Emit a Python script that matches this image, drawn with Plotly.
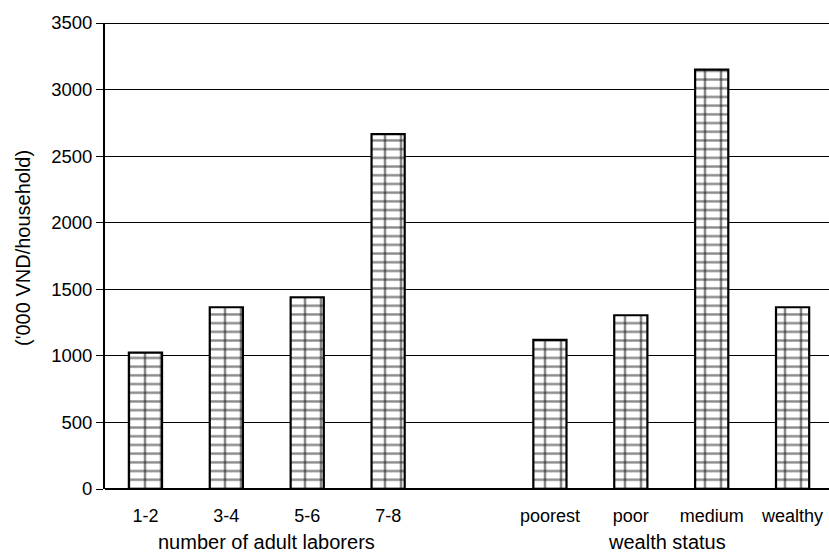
import plotly.graph_objects as go

labor_cats = ["1-2", "3-4", "5-6", "7-8"]
labor_vals = [1025, 1365, 1440, 2665]
wealth_cats = ["poorest", "poor", "medium", "wealthy"]
wealth_vals = [1120, 1305, 3150, 1365]
group_titles = ["number of adult laborers", "wealth status"]
y_ticks = [0, 500, 1000, 1500, 2000, 2500, 3000, 3500]

# positions: one empty slot between the two groups
x_labor = list(range(len(labor_cats)))
x_wealth = [len(labor_cats) + 1 + i for i in range(len(wealth_cats))]
x_all = x_labor + x_wealth
v_all = labor_vals + wealth_vals

font = "Liberation Sans, Arial, sans-serif"

fig = go.Figure()
# horizontal brick courses
fig.add_bar(
    x=x_all, y=v_all, width=0.41, showlegend=False,
    marker=dict(color="white", line=dict(color="black", width=0),
                pattern=dict(shape="-", size=8.7, solidity=0.27,
                             fgcolor="#111", bgcolor="white")),
)
# vertical joints + outline
fig.add_bar(
    x=x_all, y=v_all, width=0.41, showlegend=False,
    marker=dict(color="rgba(0,0,0,0)", line=dict(color="black", width=2.2),
                pattern=dict(shape="|", size=16, solidity=0.16,
                             fgcolor="#111", bgcolor="rgba(0,0,0,0)")),
)

fig.update_layout(
    width=829, height=556,
    margin=dict(l=105, r=0, t=23, b=67, autoexpand=False),
    plot_bgcolor="white", paper_bgcolor="white",
    font=dict(family=font, size=18, color="black"),
    barmode="overlay",
)
fig.update_xaxes(
    range=[-0.5, 8.45], automargin=False,
    tickmode="array",
    tickvals=x_all,
    ticktext=labor_cats + wealth_cats,
    showgrid=False, zeroline=False, showline=False,
    ticks="", ticklabelstandoff=14,
    tickfont=dict(size=18),
)
fig.update_yaxes(
    range=[0, 3500], automargin=False,
    tickmode="array", tickvals=y_ticks,
    showgrid=True, gridcolor="black", gridwidth=1,
    showline=True, linecolor="black", linewidth=2,
    zeroline=True, zerolinecolor="black", zerolinewidth=1.5,
    ticks="outside", ticklen=7, tickcolor="black",
    tickfont=dict(size=18.5),
)
fig.add_annotation(xref="paper", x=0, yref="paper", y=0.5, xshift=-95, yshift=8,
                   text="('000 VND/household)", textangle=-90, showarrow=False,
                   font=dict(size=20))
fig.add_shape(type="line", xref="paper", yref="y", x0=0, x1=1, y0=3500, y1=3500,
              line=dict(color="black", width=2))
fig.add_annotation(x=(x_labor[0] + x_labor[-1]) / 2, y=0, yref="y", yshift=-53,
                   text=group_titles[0], showarrow=False, font=dict(size=20),
                   yanchor="middle")
fig.add_annotation(x=(x_wealth[0] + x_wealth[-1]) / 2 - 0.05, y=0, yref="y", yshift=-53,
                   text=group_titles[1], showarrow=False, font=dict(size=20),
                   yanchor="middle")

fig.write_html("out.html", config={"displayModeBar": False},
               post_script="document.body.style.margin='0px';document.body.style.overflow='hidden';")
